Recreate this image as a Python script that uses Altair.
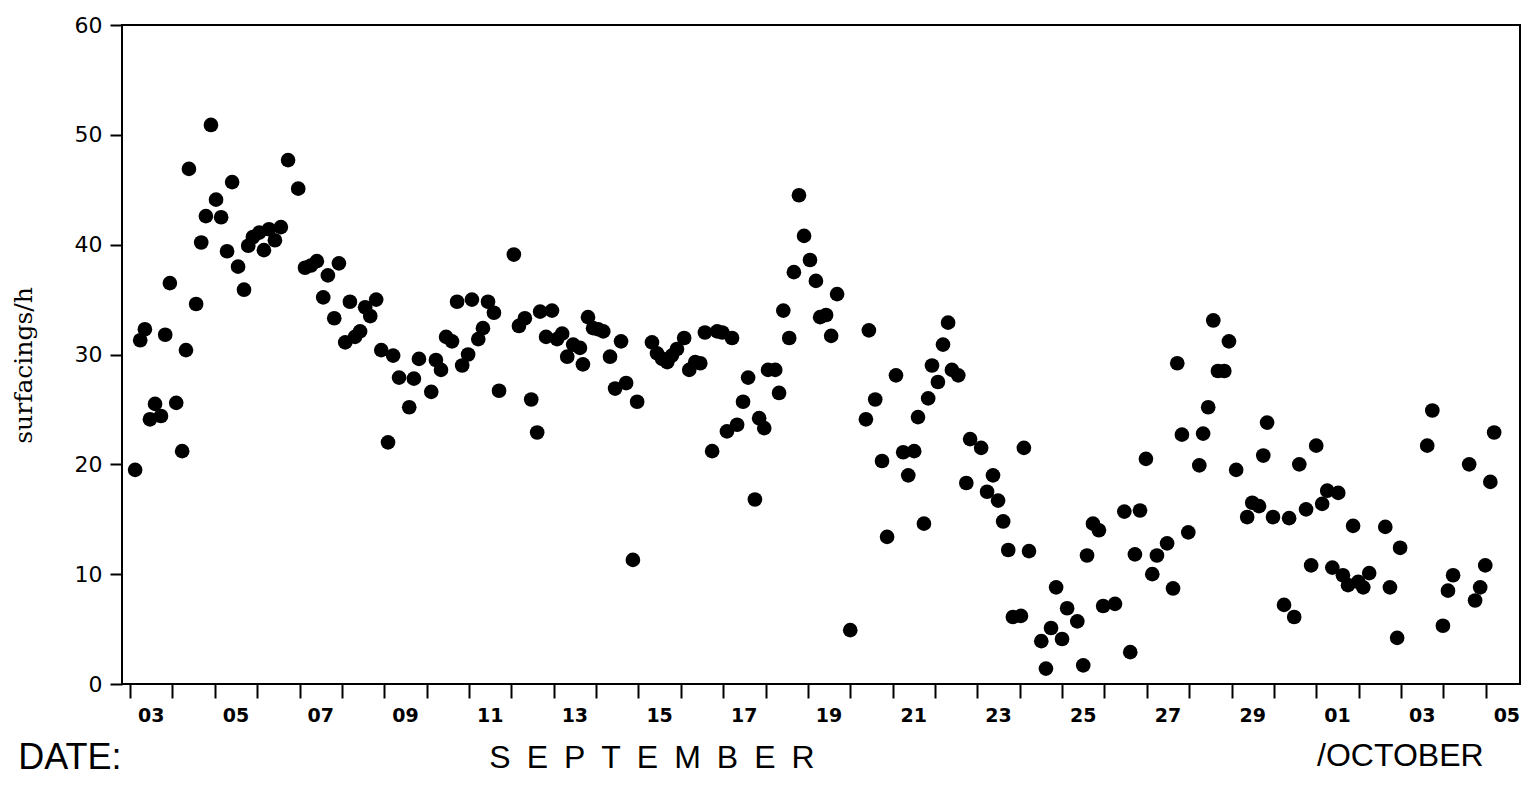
import altair as alt
import pandas as pd

# Day of September (Oct 1 = 31), continuous; value = surfacings per hour
days = [
    3.12, 3.24, 3.35, 3.47, 3.59, 3.73, 3.83, 3.94, 4.09, 4.23,
    4.32, 4.39, 4.56, 4.68, 4.79, 4.91, 5.03, 5.15, 5.29, 5.41,
    5.55, 5.69, 5.79, 5.90, 6.05, 6.16, 6.28, 6.42, 6.56, 6.73,
    6.97, 7.13, 7.27, 7.41, 7.56, 7.67, 7.82, 7.93, 8.08, 8.19,
    8.31, 8.43, 8.55, 8.67, 8.81, 8.93, 9.09, 9.21, 9.35, 9.59,
    9.70, 9.82, 10.11, 10.22, 10.34, 10.46, 10.60, 10.72, 10.84, 10.98,
    11.07, 11.22, 11.33, 11.45, 11.59, 11.71, 12.06, 12.18, 12.32, 12.47,
    12.61, 12.68, 12.82, 12.96, 13.08, 13.20, 13.32, 13.46, 13.62, 13.69,
    13.81, 13.93, 14.05, 14.17, 14.33, 14.45, 14.59, 14.71, 14.87, 14.97,
    15.32, 15.44, 15.56, 15.68, 15.79, 15.91, 16.08, 16.20, 16.34, 16.46,
    16.57, 16.74, 16.86, 16.98, 17.09, 17.21, 17.33, 17.47, 17.59, 17.75,
    17.85, 17.97, 18.06, 18.23, 18.32, 18.42, 18.56, 18.67, 18.79, 18.91,
    19.05, 19.19, 19.29, 19.43, 19.55, 19.69, 20.00, 20.37, 20.44, 20.59,
    20.75, 20.87, 21.08, 21.25, 21.37, 21.51, 21.60, 21.74, 21.84, 21.93,
    22.07, 22.19, 22.31, 22.40, 22.55, 22.74, 22.83, 23.09, 23.23, 23.37,
    23.49, 23.61, 23.73, 23.84, 24.03, 24.10, 24.22, 24.51, 24.62, 24.74,
    24.86, 25.00, 25.12, 25.36, 25.50, 25.59, 25.73, 25.87, 25.97, 26.25,
    26.47, 26.61, 26.72, 26.84, 26.98, 27.13, 27.24, 27.48, 27.62, 27.72,
    27.83, 27.98, 28.24, 28.33, 28.45, 28.57, 28.68, 28.83, 28.94, 29.11,
    29.37, 29.49, 29.65, 29.75, 29.84, 29.98, 30.24, 30.36, 30.48, 30.60,
    30.76, 30.88, 31.00, 31.14, 31.26, 31.38, 31.52, 31.63, 31.75, 31.87,
    31.99, 32.11, 32.25, 32.63, 32.74, 32.91, 32.98, 33.62, 33.74, 33.99,
    34.11, 34.23, 34.61, 34.75, 34.87, 34.99, 35.11, 35.20,
]

surfacings = [
    19.5, 31.3, 32.3, 24.1, 25.5, 24.4, 31.8, 36.5, 25.6, 21.2,
    30.4, 46.9, 34.6, 40.2, 42.6, 50.9, 44.1, 42.5, 39.4, 45.7,
    38.0, 35.9, 39.9, 40.7, 41.1, 39.5, 41.4, 40.4, 41.6, 47.7,
    45.1, 37.9, 38.1, 38.5, 35.2, 37.2, 33.3, 38.3, 31.1, 34.8,
    31.6, 32.1, 34.3, 33.5, 35.0, 30.4, 22.0, 29.9, 27.9, 25.2,
    27.8, 29.6, 26.6, 29.5, 28.6, 31.6, 31.2, 34.8, 29.0, 30.0,
    35.0, 31.4, 32.4, 34.8, 33.8, 26.7, 39.1, 32.6, 33.3, 25.9,
    22.9, 33.9, 31.6, 34.0, 31.4, 31.9, 29.8, 30.9, 30.6, 29.1,
    33.4, 32.4, 32.3, 32.1, 29.8, 26.9, 31.2, 27.4, 11.3, 25.7,
    31.1, 30.1, 29.6, 29.3, 29.9, 30.5, 31.5, 28.6, 29.3, 29.2,
    32.0, 21.2, 32.1, 32.0, 23.0, 31.5, 23.6, 25.7, 27.9, 16.8,
    24.2, 23.3, 28.6, 28.6, 26.5, 34.0, 31.5, 37.5, 44.5, 40.8,
    38.6, 36.7, 33.4, 33.6, 31.7, 35.5, 4.9, 24.1, 32.2, 25.9,
    20.3, 13.4, 28.1, 21.1, 19.0, 21.2, 24.3, 14.6, 26.0, 29.0,
    27.5, 30.9, 32.9, 28.6, 28.1, 18.3, 22.3, 21.5, 17.5, 19.0,
    16.7, 14.8, 12.2, 6.1, 6.2, 21.5, 12.1, 3.9, 1.4, 5.1,
    8.8, 4.1, 6.9, 5.7, 1.7, 11.7, 14.6, 14.0, 7.1, 7.3,
    15.7, 2.9, 11.8, 15.8, 20.5, 10.0, 11.7, 12.8, 8.7, 29.2,
    22.7, 13.8, 19.9, 22.8, 25.2, 33.1, 28.5, 28.5, 31.2, 19.5,
    15.2, 16.5, 16.2, 20.8, 23.8, 15.2, 7.2, 15.1, 6.1, 20.0,
    15.9, 10.8, 21.7, 16.4, 17.6, 10.6, 17.4, 9.9, 9.0, 14.4,
    9.3, 8.8, 10.1, 14.3, 8.8, 4.2, 12.4, 21.7, 24.9, 5.3,
    8.5, 9.9, 20.0, 7.6, 8.8, 10.8, 18.4, 22.9,
]

# Axis ticks (day boundaries) and day labels (centred on the day)
tick_days = list(range(3, 37))
label_days = [3.5, 5.5, 7.5, 9.5, 11.5, 13.5, 15.5, 17.5, 19.5, 21.5, 23.5,
              25.5, 27.5, 29.5, 31.5, 33.5, 35.5]
label_texts = ["03", "05", "07", "09", "11", "13", "15", "17", "19", "21", "23",
               "25", "27", "29", "01", "03", "05"]
y_ticks = [0, 10, 20, 30, 40, 50, 60]

# Bottom annotations
note_texts = ["DATE:", "S\u2002E\u2002P\u2002T\u2002E\u2002M\u2002B\u2002E\u2002R", "/OCTOBER"]
note_days = [0.36, 15.32, 31.02]

df = pd.DataFrame({"day": days, "rate": surfacings})
labels = pd.DataFrame({"day": label_days, "text": label_texts})
notes = pd.DataFrame({"label": note_texts, "day": note_days})

W, H = 1398, 659
x_scale = alt.Scale(domain=[2.81, 35.81], nice=False, zero=False)
y_scale = alt.Scale(domain=[0, 60], nice=False)

x_axis = alt.Axis(
    values=tick_days, labels=False,
    tickSize=14, tickWidth=2, tickColor="black",
    domain=False, grid=False, title=None,
)
y_axis = alt.Axis(
    values=y_ticks, tickSize=12, tickWidth=2, tickColor="black",
    labelPadding=8, labelFont="DejaVu Sans", labelFontSize=22, labelColor="black",
    domain=False, grid=False,
    title="surfacings/h", titleFont="DejaVu Serif", titleFontSize=25,
    titleFontWeight="normal", titleColor="black",
    titleX=-99, titleY=340, titleAlign="center", titleBaseline="middle", titleAngle=-90,
)

points = alt.Chart(df).mark_circle(size=215, color="black", opacity=1).encode(
    x=alt.X("day:Q", scale=x_scale, axis=x_axis),
    y=alt.Y("rate:Q", scale=y_scale, axis=y_axis),
)

day_labels = alt.Chart(labels).mark_text(
    align="center", baseline="middle", font="DejaVu Sans", fontSize=19,
    fontWeight="bold", color="black"
).encode(x=alt.X("day:Q", scale=x_scale), y=alt.value(H + 32), text="text:N")

base_notes = alt.Chart(notes)
date_txt = base_notes.transform_filter(alt.datum.label == note_texts[0]).mark_text(
    align="left", baseline="alphabetic", font="Liberation Sans", fontSize=36, color="black"
).encode(x=alt.X("day:Q", scale=x_scale), y=alt.value(H + 85), text="label:N")
sep_txt = base_notes.transform_filter(alt.datum.label == note_texts[1]).mark_text(
    align="center", baseline="alphabetic", font="Liberation Sans", fontSize=32, color="black"
).encode(x=alt.X("day:Q", scale=x_scale), y=alt.value(H + 84), text="label:N")
oct_txt = base_notes.transform_filter(alt.datum.label == note_texts[2]).mark_text(
    align="left", baseline="alphabetic", font="Liberation Sans", fontSize=32, color="black"
).encode(x=alt.X("day:Q", scale=x_scale), y=alt.value(H + 82), text="label:N")

chart = alt.layer(points, day_labels, date_txt, sep_txt, oct_txt).properties(
    width=W, height=H,
    padding={"left": 114, "top": 17, "right": 1, "bottom": 94},
    autosize=alt.AutoSizeParams(type="none"),
    background="white",
).configure_view(stroke="black", strokeWidth=2)

chart.save("out.html", embed_options={"renderer": "svg", "actions": False})
